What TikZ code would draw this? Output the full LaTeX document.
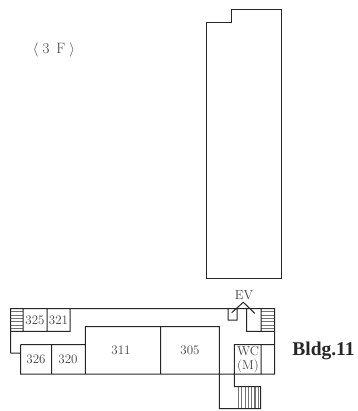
\documentclass[tikz,border=0pt]{standalone}
\usepackage{fontspec}
\newfontfamily\bldgfont{Liberation Serif}

\begin{document}
\begin{tikzpicture}[x=1pt,y=-1pt,
    wall/.style={line width=1pt,draw=black!85},
    tread/.style={line width=1.1pt,draw=black!55},
    room/.style={font=\fontsize{13}{14}\selectfont,text=black!75,inner sep=0pt,align=center}]
\useasboundingbox (0,0) rectangle (357,411);

% upper wing
\draw[wall] (206.3,278) -- (206.3,23) -- (231.3,23) -- (231.3,10) -- (281.7,10) -- (281.7,278) -- cycle;

% stairs
\foreach \y in {311.9,315.2,318.5,321.8,325.1,328.4} {
  \draw[tread] (10.5,\y) -- (23,\y) (261,\y) -- (274.5,\y);
}
\foreach \x in {238.5,241.8,245.1,248.4,251.7,255,258.3} {
  \draw[tread] (\x,386.7) -- (\x,408.7);
}

% lower wing
\draw[wall] (10.5,353) -- (10.5,308.7) -- (274.5,308.7) -- (274.5,374.2) -- (20.7,374.2) -- (20.7,344.6)
      (10.5,353) -- (20.7,353)
      (20.7,344.6) -- (85.3,344.6) (85.3,374.2) -- (85.3,326.7) -- (219.3,326.7) -- (219.3,408.7) -- (260.7,408.7) -- (260.7,386.7) -- (234.3,386.7) -- (234.3,344.7) -- (274.5,344.7)
      (51.7,344.6) -- (51.7,374.2) (160.7,326.7) -- (160.7,374.2) (261,344.7) -- (261,374.2)
      (10.5,331.3) -- (70,331.3) -- (70,308.7) (23,308.7) -- (23,331.3) (47,308.7) -- (47,331.3)
      (246.7,308.7) -- (246.7,331.3) -- (274.5,331.3) (261,308.7) -- (261,331.3)
      (228,308.7) -- (228,320) -- (237,320) -- (237,308.7)
      (231.7,312.7) -- (243.3,302.3) -- (254.7,313.3);

\node[room] (r325) at (35,320) {325};
\node[room] (r321) at (58.5,320) {321};
\node[room] (r326) at (36,359.5) {326};
\node[room] (r320) at (68,359.5) {320};
\node[room] (r311) at (121,350.5) {311};
\node[room] (r305) at (190,350.5) {305};
\node[room] (ev) at (244,295) {EV};
\node[room,font=\fontsize{13}{13.5}\selectfont] (wc) at (248,359.5) {WC\\(M)};
\node[room,font=\fontsize{15}{16}\selectfont] (floor) at (54,50) {$\langle$\;3\;\,F\;$\rangle$};
\node[font=\bldgfont\bfseries\fontsize{19.5}{20}\selectfont,text=black!85,inner sep=0pt] (bldg) at (323.5,351) {Bldg.11};
\end{tikzpicture}
\end{document}
